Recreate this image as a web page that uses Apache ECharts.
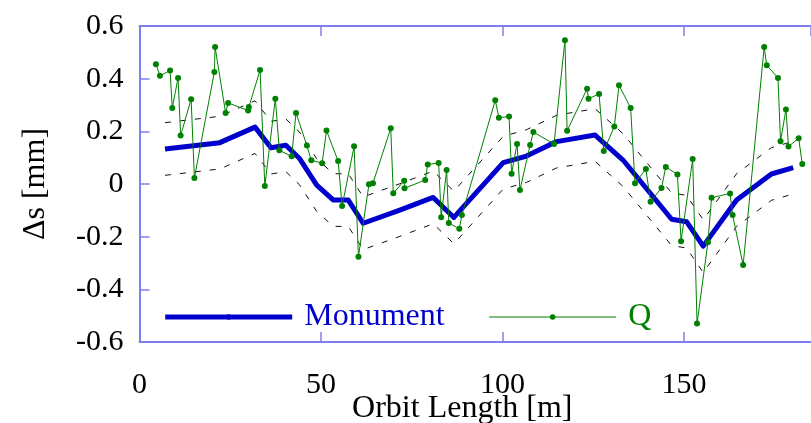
<!DOCTYPE html>
<html>
<head>
<meta charset="utf-8">
<script src="https://cdn.jsdelivr.net/npm/echarts@6/dist/echarts.min.js"></script>
<style>
  html, body { margin: 0; padding: 0; background: #fff; }
  #chart { width: 811px; height: 423px; }
</style>
</head>
<body>
<div id="chart"></div>
<script>
// Monument survey offsets along the orbit [m] vs Δs [mm]
const monumentX = [7.0, 22.1, 31.8, 36.2, 40.3, 44.0, 48.8, 53.4, 57.5, 61.6, 71.7, 80.9, 86.6, 100.2, 106.6, 114.9, 125.5, 133.2, 146.6, 150.7, 155.3, 164.5, 174.1, 180.1];
const monumentY = [0.133, 0.157, 0.216, 0.138, 0.147, 0.098, -0.004, -0.061, -0.061, -0.149, -0.099, -0.051, -0.127, 0.081, 0.106, 0.161, 0.186, 0.091, -0.134, -0.143, -0.236, -0.061, 0.038, 0.062];
// Tolerance band drawn as dashed lines
const upperY = [0.233, 0.257, 0.316, 0.238, 0.247, 0.198, 0.096, 0.039, 0.039, -0.049, 0.001, 0.049, -0.027, 0.181, 0.206, 0.261, 0.286, 0.191, -0.034, -0.043, -0.136, 0.039, 0.138, 0.162];
const lowerY = [0.033, 0.057, 0.116, 0.038, 0.047, -0.002, -0.104, -0.161, -0.161, -0.249, -0.199, -0.151, -0.227, -0.019, 0.006, 0.061, 0.086, -0.009, -0.234, -0.243, -0.336, -0.161, -0.062, -0.038];
// Quadrupole positions
const qX = [4.5, 5.6, 8.4, 9.0, 10.6, 11.3, 14.2, 15.1, 20.6, 20.8, 23.7, 24.4, 29.9, 30.1, 33.2, 34.5, 37.4, 38.5, 41.9, 43.1, 46.1, 47.3, 50.3, 51.5, 54.7, 55.8, 59.1, 60.3, 63.2, 64.3, 69.2, 69.9, 72.9, 73.0, 78.7, 79.4, 82.4, 83.1, 84.6, 85.2, 88.1, 88.8, 98.0, 99.0, 101.8, 102.5, 104.0, 104.8, 107.6, 108.5, 114.2, 117.2, 117.8, 123.3, 123.7, 126.6, 127.9, 130.8, 132.1, 135.3, 136.5, 139.5, 140.8, 143.8, 145.0, 148.2, 149.2, 152.4, 153.6, 156.6, 157.6, 162.7, 163.4, 166.3, 172.1, 172.8, 175.9, 176.6, 178.1, 178.8, 181.6, 182.6];
const qY = [0.455, 0.411, 0.431, 0.289, 0.403, 0.184, 0.322, 0.023, 0.425, 0.520, 0.270, 0.308, 0.279, 0.292, 0.433, -0.008, 0.324, 0.128, 0.105, 0.270, 0.146, 0.090, 0.079, 0.203, 0.087, -0.084, 0.143, -0.276, -0.001, 0.003, 0.212, -0.035, 0.012, -0.016, 0.015, 0.074, 0.080, -0.126, 0.053, -0.148, -0.170, -0.118, 0.318, 0.252, 0.256, 0.039, 0.152, -0.023, 0.148, 0.197, 0.152, 0.546, 0.202, 0.362, 0.324, 0.342, 0.125, 0.218, 0.375, 0.289, 0.003, 0.057, -0.067, -0.015, 0.065, 0.036, -0.217, 0.095, -0.530, -0.221, -0.052, -0.036, -0.118, -0.308, 0.520, 0.451, 0.403, 0.162, 0.283, 0.142, 0.174, 0.076];
const xTicks = [0, 50, 100, 150];
const yTicks = [-0.6, -0.4, -0.2, 0, 0.2, 0.4, 0.6];

const pairs = (xs, ys) => xs.map((x, i) => [x, ys[i]]);

const FONT = "'Liberation Serif', 'Times New Roman', serif";
const AXIS_BLUE = '#7f7fef';
const BLUE = '#0000cc';
const GREEN = '#008000';

const chart = echarts.init(document.getElementById('chart'), null, { renderer: 'canvas' });

chart.setOption({
  animation: false,
  backgroundColor: '#ffffff',
  grid: { left: 139.6, top: 26, right: 0, bottom: 81, containLabel: false, outerBoundsMode: 'none' },
  legend: {
    left: 162.7,
    top: 301,
    padding: 0,
    itemWidth: 127,
    itemHeight: 7,
    itemGap: 44,
    textStyle: { fontFamily: FONT, fontSize: 32, padding: [0, 0, 0, 7] },
    data: [
      { name: 'Monument', textStyle: { color: BLUE }, lineStyle: { width: 5 } },
      { name: 'Q', textStyle: { color: GREEN }, lineStyle: { width: 1 } }
    ]
  },
  xAxis: [
    {
      type: 'value',
      min: 0,
      max: 185,
      interval: 50,
      name: 'Orbit Length [m]',
      nameLocation: 'middle',
      nameGap: 51,
      nameMoveOverlap: false,
      nameTextStyle: { fontFamily: FONT, fontSize: 32, color: '#000', padding: [0, 26, 0, 0] },
      axisLine: { show: true, onZero: false, lineStyle: { color: AXIS_BLUE, width: 2 } },
      axisTick: { show: true, inside: true, length: 10, lineStyle: { color: AXIS_BLUE, width: 1.5 } },
      axisLabel: {
        fontFamily: FONT, fontSize: 30, color: '#000', margin: 28,
        showMaxLabel: false,
        formatter: v => (xTicks.includes(v) ? String(v) : '')
      },
      splitLine: { show: false }
    },
    {
      type: 'value',
      position: 'top',
      min: 0,
      max: 185,
      interval: 50,
      axisLine: { show: true, onZero: false, lineStyle: { color: AXIS_BLUE, width: 2 } },
      axisTick: { show: true, inside: true, length: 10, lineStyle: { color: AXIS_BLUE, width: 1.5 } },
      axisLabel: { show: false },
      splitLine: { show: false }
    }
  ],
  yAxis: {
    type: 'value',
    min: -0.6,
    max: 0.6,
    interval: 0.2,
    name: 'Δs [mm]',
    nameLocation: 'middle',
    nameRotate: 90,
    nameGap: 88,
    nameMoveOverlap: false,
    nameTextStyle: { fontFamily: FONT, fontSize: 32, color: '#000' },
    axisLine: { show: true, onZero: false, lineStyle: { color: AXIS_BLUE, width: 2 } },
    axisTick: { show: true, inside: true, length: 10, lineStyle: { color: AXIS_BLUE, width: 1.5 } },
    axisLabel: {
      fontFamily: FONT, fontSize: 30, color: '#000', margin: 16,
      formatter: v => {
        const r = Math.round(v * 10) / 10;
        return yTicks.includes(r) ? String(r) : '';
      }
    },
    splitLine: { show: false }
  },
  series: [
    {
      name: 'upper',
      type: 'line',
      data: pairs(monumentX, upperY),
      showSymbol: false,
      symbol: 'none',
      lineStyle: { color: '#111', width: 1, type: [6, 9] },
      z: 1,
      silent: true
    },
    {
      name: 'lower',
      type: 'line',
      data: pairs(monumentX, lowerY),
      showSymbol: false,
      symbol: 'none',
      lineStyle: { color: '#111', width: 1, type: [6, 9] },
      z: 1,
      silent: true
    },
    {
      name: 'Monument',
      type: 'line',
      data: pairs(monumentX, monumentY),
      symbol: 'circle',
      symbolSize: 4,
      showSymbol: false,
      itemStyle: { color: BLUE },
      lineStyle: { color: BLUE, width: 5, join: 'round' },
      z: 2
    },
    {
      name: 'Q',
      type: 'line',
      data: pairs(qX, qY),
      symbol: 'circle',
      symbolSize: 6,
      itemStyle: { color: GREEN },
      lineStyle: { color: GREEN, width: 1 },
      z: 3
    }
  ]
});
</script>
</body>
</html>
